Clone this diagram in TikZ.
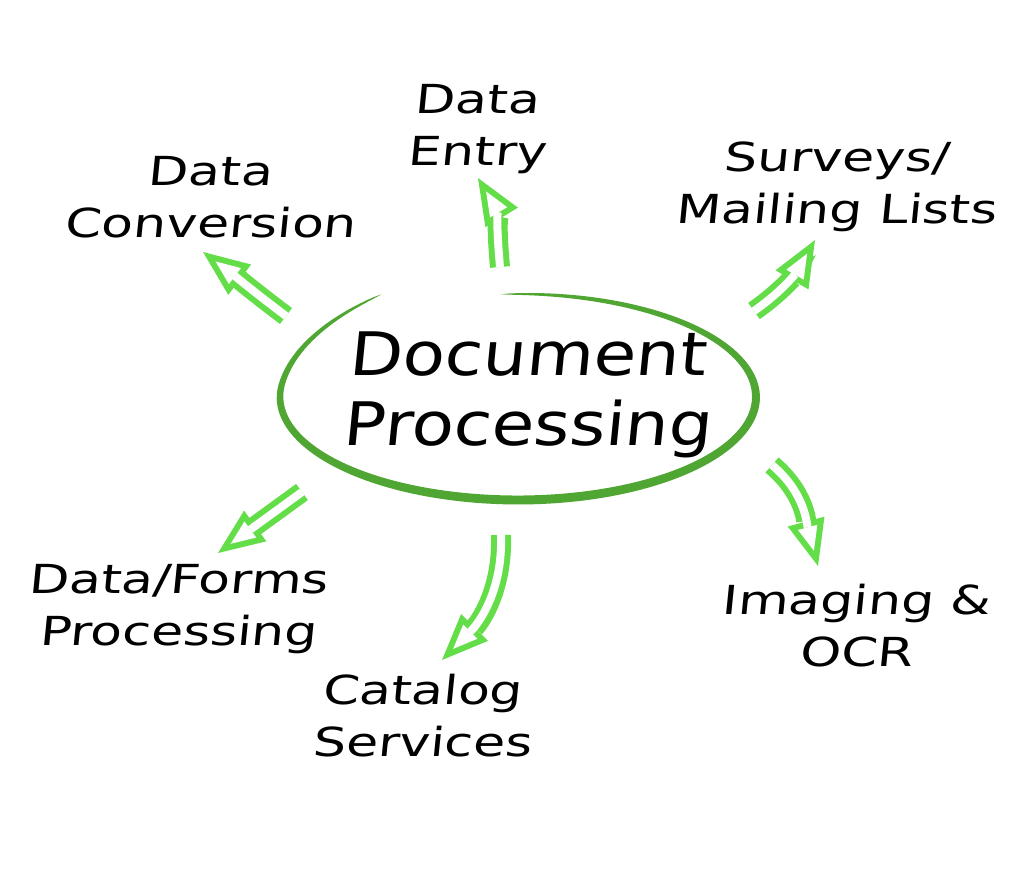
\documentclass[tikz,border=0pt]{standalone}
\usepackage{fontspec}
\setmainfont{DejaVu Sans}[FakeStretch=1.3, FakeSlant=0.1]
\newfontfamily\centrefont{DejaVu Sans}[FakeStretch=1.15, FakeSlant=0.1]
\usetikzlibrary{arrows.meta}
\definecolor{ringgreen}{RGB}{80,166,50}
\definecolor{arrowgreen}{RGB}{100,222,72}
\begin{document}
\begin{tikzpicture}[x=0.5pt,y=-0.5pt,
  lbl/.style={align=center, font=\fontsize{20}{26}\selectfont, inner sep=0pt},
  centertext/.style={align=center, font=\centrefont\fontsize{30}{35}\selectfont, inner sep=0pt},
  arrowout/.style={draw=arrowgreen, line width=10pt,
    -{Triangle[length=23pt,width=19pt,line width=0pt]}},
  arrowin/.style={draw=white, line width=4pt, shorten >=7.87pt,
    -{Triangle[length=12.13pt,width=10pt,line width=0pt]}},
  declare function={
    fr(\t)=1+0.15*max(0,(\t+187)/(-53))*max(0,(\t+187)/(-53));
    hw(\t)=4.5*sqrt(abs(sin(0.5389*(94-\t))));
  }]
\fill[white] (0,0) rectangle (1018,880);
\useasboundingbox (0,0) rectangle (1018,880);

% centre topic and its brush-stroke ring
\node[centertext] (main) at (527,395) {Document\\Processing};
\fill[ringgreen]
  plot[domain=94:-240,samples=160]
    ({518+(238*fr(\x)+hw(\x))*cos(\x)},{397-(103*fr(\x)+hw(\x))*sin(\x)})
  -- plot[domain=-240:94,samples=160]
    ({518+(238*fr(\x)-hw(\x))*cos(\x)},{397-(103*fr(\x)-hw(\x))*sin(\x)})
  -- cycle;

% surrounding topics
\node[lbl] (entry)   at (477,129) {Data\\Entry};
\node[lbl] (conv)    at (210,197) {Data\\Conversion};
\node[lbl] (survey)  at (836,187) {Surveys/\\Mailing Lists};
\node[lbl] (forms)   at (178,609) {Data/Forms\\Processing};
\node[lbl] (catalog) at (422,716) {Catalog\\Services};
\node[lbl] (imaging) at (856,626) {Imaging \&\\OCR};

% arrow ends
\coordinate (t1) at (286,316); \coordinate (h1) at (203,252);
\coordinate (t2) at (500,267); \coordinate (h2) at (478,178);
\coordinate (t3) at (754,311); \coordinate (h3) at (815,240);
\coordinate (t4) at (302,492); \coordinate (h4) at (218,553);
\coordinate (t5) at (501,535); \coordinate (h5) at (442,660);
\coordinate (t6) at (772,465); \coordinate (h6) at (818,566);

% hollow arrows: green body, white core
\foreach \i/\o/\n in {1/143/-37, 2/95/301, 3/35/240, 4/216/36, 5/-88/45, 6/-40/105} {
  \draw[arrowout] (t\i) to[out=\o,in=\n] (h\i);
  \draw[arrowin]  (t\i) to[out=\o,in=\n] (h\i);
}
\end{tikzpicture}
\end{document}
